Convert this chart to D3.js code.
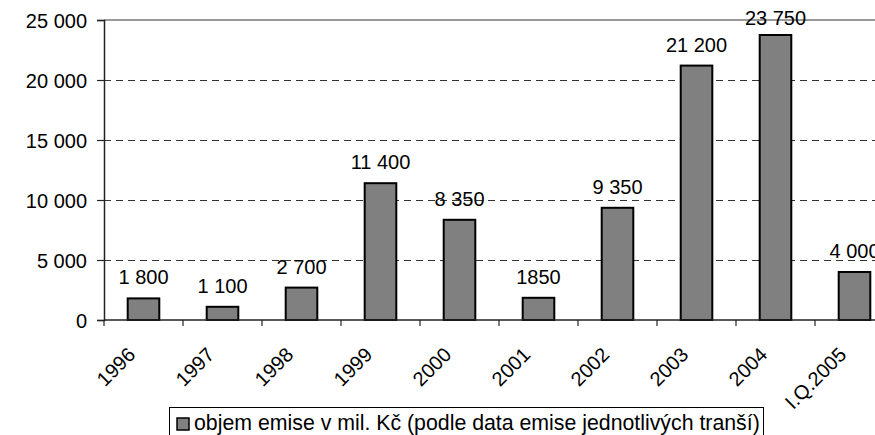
<!DOCTYPE html>
<html>
<head>
<meta charset="utf-8">
<script src="https://cdn.jsdelivr.net/npm/d3@7"></script>
<style>
  body { margin: 0; background: #fff; }
  svg text { font-family: "Liberation Sans", Arial, sans-serif; fill: #000; }
</style>
</head>
<body>
<svg></svg>
<script>
//Setting
const width = 875;
const height = 435;

//Data
const years = ["1996", "1997", "1998", "1999", "2000", "2001", "2002", "2003", "2004", "I.Q.2005"];
const volumes = [1800, 1100, 2700, 11400, 8350, 1850, 9350, 21200, 23750, 4000];
const valueLabels = ["1 800", "1 100", "2 700", "11 400", "8 350", "1850", "9 350", "21 200", "23 750", "4 000"];
const yTicks = [0, 5000, 10000, 15000, 20000, 25000];
const yTickLabels = ["0", "5 000", "10 000", "15 000", "20 000", "25 000"];
const legendText = "objem emise v mil. Kč (podle data emise jednotlivých tranší)";

const svg = d3.select("svg")
  .attr("width", width)
  .attr("height", height);

const x = d3.scaleBand()
  .domain(years)
  .range([104, 894])
  .paddingInner(0.6)
  .paddingOuter(0.3);

const y = d3.scaleLinear()
  .domain([0, 25000])
  .range([320, 20]);

// gridlines
svg.append("g")
  .selectAll("line")
  .data(yTicks.filter(d => d > 0 && d < 25000))
  .enter()
  .append("line")
  .attr("x1", 104)
  .attr("x2", width)
  .attr("y1", d => y(d) + 0.5)
  .attr("y2", d => y(d) + 0.5)
  .attr("stroke", "#333")
  .attr("stroke-width", 1)
  .attr("stroke-dasharray", "7,5");

// plot area top border
svg.append("line")
  .attr("x1", 104).attr("x2", width)
  .attr("y1", y(25000)).attr("y2", y(25000))
  .attr("stroke", "#999")
  .attr("stroke-width", 2);

// bars
svg.append("g")
  .selectAll("rect")
  .data(volumes)
  .enter()
  .append("rect")
  .attr("x", (d, i) => x(years[i]))
  .attr("y", d => y(d))
  .attr("width", x.bandwidth())
  .attr("height", d => y(0) - y(d))
  .attr("fill", "#808080")
  .attr("stroke", "#000")
  .attr("stroke-width", 2);

// value labels
svg.append("g")
  .selectAll("text")
  .data(volumes)
  .enter()
  .append("text")
  .attr("x", (d, i) => x(years[i]) + x.bandwidth() / 2)
  .attr("y", d => Math.max(y(d) - 14, 25))
  .attr("text-anchor", "middle")
  .style("font-size", "20px")
  .text((d, i) => valueLabels[i]);

// y axis
const yAxis = d3.axisLeft(y)
  .tickValues(yTicks)
  .tickSize(7)
  .tickPadding(10)
  .tickFormat((d, i) => yTickLabels[i]);

const gy = svg.append("g")
  .attr("transform", "translate(104,0)")
  .call(yAxis);
gy.select(".domain").attr("stroke", "#222").attr("stroke-width", 1.5);
gy.selectAll(".tick line").attr("stroke", "#222").attr("stroke-width", 1.2);
gy.selectAll(".tick text")
  .style("font-size", "20px")
  .attr("dy", "0.35em");

// x axis
const step = x.step();
const gx = svg.append("g");
gx.append("line")
  .attr("x1", 104).attr("x2", width)
  .attr("y1", 320).attr("y2", 320)
  .attr("stroke", "#222")
  .attr("stroke-width", 1.5);
gx.selectAll(".xtick")
  .data(years)
  .enter()
  .append("line")
  .attr("class", "xtick")
  .attr("x1", d => x(d) - x.paddingOuter() * step)
  .attr("x2", d => x(d) - x.paddingOuter() * step)
  .attr("y1", 320)
  .attr("y2", 326)
  .attr("stroke", "#222")
  .attr("stroke-width", 1.2);
gx.selectAll(".xlabel")
  .data(years)
  .enter()
  .append("text")
  .attr("class", "xlabel")
  .attr("text-anchor", "end")
  .attr("transform", d => `translate(${x(d) + x.bandwidth() / 2 - 7},356) rotate(-45)`)
  .style("font-size", "20px")
  .text(d => d);

// legend
const legend = svg.append("g");
legend.append("rect")
  .attr("x", 169.5)
  .attr("y", 407.5)
  .attr("width", 594)
  .attr("height", 40)
  .attr("fill", "#fff")
  .attr("stroke", "#000")
  .attr("stroke-width", 1);
legend.append("rect")
  .attr("x", 177)
  .attr("y", 418)
  .attr("width", 12)
  .attr("height", 12)
  .attr("fill", "#808080")
  .attr("stroke", "#000")
  .attr("stroke-width", 1.5);
legend.append("text")
  .attr("x", 194)
  .attr("y", 430)
  .style("font-size", "21.3px")
  .text(legendText);
</script>
</body>
</html>
